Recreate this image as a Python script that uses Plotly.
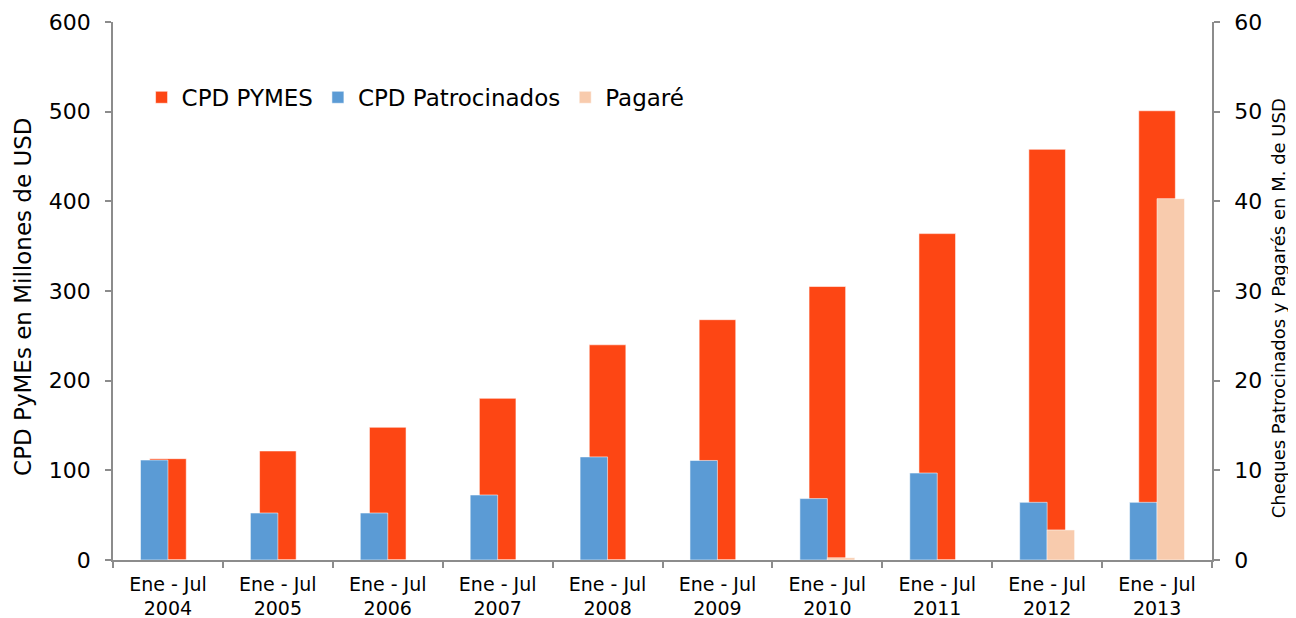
import plotly.graph_objects as go

categories = ["Ene - Jul<br>2004", "Ene - Jul<br>2005", "Ene - Jul<br>2006", "Ene - Jul<br>2007",
              "Ene - Jul<br>2008", "Ene - Jul<br>2009", "Ene - Jul<br>2010", "Ene - Jul<br>2011",
              "Ene - Jul<br>2012", "Ene - Jul<br>2013"]
cpd_pymes = [113, 121.6, 148, 180.3, 240, 268, 305, 364, 458, 501]
cpd_patrocinados = [11.15, 5.24, 5.24, 7.25, 11.5, 11.1, 6.85, 9.7, 6.43, 6.43]
pagare = [0, 0, 0, 0, 0, 0, 0.25, 0, 3.35, 40.3]

left_title = "CPD PyMEs en Millones de USD"
right_title = "Cheques Patrocinados y Pagarés en M. de USD"

FONT = "DejaVu Sans"
AXIS_COLOR = "#8c8c8c"

fig = go.Figure()
fig.add_trace(go.Bar(
    x=categories, y=cpd_pymes, name="CPD PYMES",
    marker=dict(color="#FD4614", line=dict(color="rgba(255,255,255,0.55)", width=1)),
    width=0.333, offset=-0.1665, yaxis="y",
))
fig.add_trace(go.Bar(
    x=categories, y=cpd_patrocinados, name="CPD Patrocinados",
    marker=dict(color="#5B9BD5", line=dict(color="rgba(255,255,255,0.55)", width=1)),
    width=0.25, offset=-0.25, yaxis="y2",
))
fig.add_trace(go.Bar(
    x=categories, y=pagare, name="Pagaré",
    marker=dict(color="#F8CBAD", line=dict(color="rgba(255,255,255,0.55)", width=1)),
    width=0.25, offset=0.0, yaxis="y2",
))

fig.update_layout(
    width=1288, height=610,
    margin=dict(l=105, r=84, t=14, b=58),
    paper_bgcolor="white", plot_bgcolor="white",
    barmode="overlay",
    font=dict(family=FONT, size=20, color="#000000"),
    showlegend=True,
    legend=dict(
        orientation="h", x=0.026, y=0.86, xanchor="left", yanchor="middle",
        font=dict(family=FONT, size=23, color="#000000"),
        bgcolor="rgba(0,0,0,0)", itemwidth=30, tracegroupgap=0,
    ),
    xaxis=dict(
        type="category", showline=True, linecolor=AXIS_COLOR, linewidth=1.5,
        ticks="outside", tickson="boundaries", ticklen=6, tickcolor=AXIS_COLOR, tickwidth=1.5,
        tickfont=dict(family=FONT, size=19, color="#000000"), ticklabelstandoff=6,
        showgrid=False, zeroline=False, range=[-0.5, 9.5], automargin=False,
    ),
    yaxis=dict(
        range=[0, 600], dtick=100, showline=True, linecolor=AXIS_COLOR, linewidth=1.5,
        ticks="outside", ticklen=6, tickcolor=AXIS_COLOR, tickwidth=1.5,
        tickfont=dict(family=FONT, size=22, color="#000000"), ticklabelstandoff=10,
        showgrid=False, zeroline=False, automargin=False,
    ),
    yaxis2=dict(
        range=[0, 60], dtick=10, overlaying="y", side="right", showline=True,
        linecolor=AXIS_COLOR, linewidth=1.5,
        ticks="outside", ticklen=6, tickcolor=AXIS_COLOR, tickwidth=1.5,
        tickfont=dict(family=FONT, size=22, color="#000000"), ticklabelstandoff=10,
        showgrid=False, zeroline=False, automargin=False,
    ),
    annotations=[
        dict(text=left_title, xref="paper", yref="paper", x=0, y=0.489,
             xanchor="center", yanchor="middle", xshift=-90, textangle=-90, showarrow=False,
             font=dict(family=FONT, size=23, color="#000000")),
        dict(text=right_title, xref="paper", yref="paper", x=1, y=0.468,
             xanchor="center", yanchor="middle", xshift=66, textangle=-90, showarrow=False,
             font=dict(family=FONT, size=18, color="#000000")),
    ],
)

fig.write_html("out.html")
